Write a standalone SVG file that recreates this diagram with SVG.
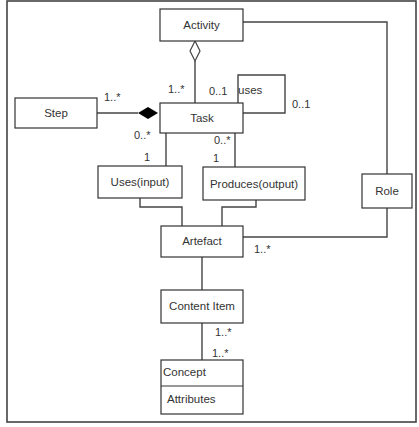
<svg xmlns="http://www.w3.org/2000/svg" width="419" height="427" viewBox="0 0 419 427">
  <style>
    .box { fill: #fff; stroke: #333; stroke-width: 1.2; }
    .ln { fill: none; stroke: #444; stroke-width: 1.4; }
    text { font-family: "Liberation Sans", Arial, sans-serif; font-size: 11.5px; fill: #333; }
    .c { text-anchor: middle; }
    .m { font-size: 11px; }
  </style>
  <rect x="0" y="0" width="419" height="427" fill="#fff"/>
  <!-- outer frame -->
  <rect x="7" y="1" width="409" height="421" fill="none" stroke="#444" stroke-width="1.6"/>

  <g id="connectors">
    <!-- Activity to Role -->
    <polyline class="ln" points="243,22 387,22 387,174"/>
    <!-- Activity aggregation to Task -->
    <line class="ln" x1="195" y1="61" x2="195" y2="103"/>
    <polygon points="195,41 200,51 195,61 190,51" fill="#fff" stroke="#444" stroke-width="1.2"/>
    <!-- Task self association "uses" -->
    <polyline class="ln" points="238,103 238,75 285,75 285,113 243,113"/>
    <!-- Step composition -->
    <line class="ln" x1="97" y1="113" x2="138" y2="113"/>
    <polygon points="138,113 148,107 158,113 148,119" fill="#000"/>
    <!-- Task to Uses / Produces -->
    <line class="ln" x1="166" y1="133" x2="166" y2="166"/>
    <line class="ln" x1="235" y1="133" x2="235" y2="167"/>
    <!-- Uses / Produces to Artefact -->
    <polyline class="ln" points="140,198 140,207 182,207 182,226"/>
    <polyline class="ln" points="256,200 256,207 222,207 222,226"/>
    <!-- Role to Artefact -->
    <polyline class="ln" points="387,208 387,237 243,237"/>
    <!-- Artefact to Content Item to Concept -->
    <line class="ln" x1="202" y1="257" x2="202" y2="290"/>
    <line class="ln" x1="202" y1="323" x2="202" y2="360"/>
  </g>

  <g id="activity">
    <rect class="box" x="160" y="9" width="83" height="32"/>
    <text class="c" x="201.5" y="29">Activity</text>
  </g>
  <g id="task">
    <rect class="box" x="160" y="103" width="83" height="30"/>
    <text class="c" x="202" y="122">Task</text>
  </g>
  <g id="step">
    <rect class="box" x="15" y="98" width="82" height="30"/>
    <text class="c" x="56" y="117">Step</text>
  </g>
  <g id="uses-input">
    <rect class="box" x="98" y="166" width="84" height="32"/>
    <text class="c" x="140" y="186">Uses(input)</text>
  </g>
  <g id="produces-output">
    <rect class="box" x="203" y="167" width="102" height="33"/>
    <text class="c" x="254" y="188">Produces(output)</text>
  </g>
  <g id="role">
    <rect class="box" x="362" y="174" width="50" height="34"/>
    <text class="c" x="387" y="195">Role</text>
  </g>
  <g id="artefact">
    <rect class="box" x="161" y="226" width="82" height="31"/>
    <text class="c" x="202" y="245">Artefact</text>
  </g>
  <g id="content-item">
    <rect class="box" x="161" y="290" width="82" height="33"/>
    <text class="c" x="202" y="310">Content Item</text>
  </g>
  <g id="concept">
    <rect class="box" x="161" y="360" width="82" height="54"/>
    <line x1="161" y1="386" x2="243" y2="386" stroke="#333" stroke-width="1.2"/>
    <text x="163" y="376">Concept</text>
    <text x="167" y="403">Attributes</text>
  </g>

  <g id="labels">
    <text x="238" y="94">uses</text>
    <text class="m" x="168" y="93">1..*</text>
    <text class="m" x="209" y="95">0..1</text>
    <text class="m" x="292" y="108">0..1</text>
    <text class="m" x="104" y="101">1..*</text>
    <text class="m" x="134" y="139">0..*</text>
    <text class="m" x="214" y="144">0..*</text>
    <text class="m" x="144" y="161">1</text>
    <text class="m" x="213" y="162">1</text>
    <text class="m" x="254" y="253">1..*</text>
    <text class="m" x="215" y="336">1..*</text>
    <text class="m" x="212" y="357">1..*</text>
  </g>
</svg>
